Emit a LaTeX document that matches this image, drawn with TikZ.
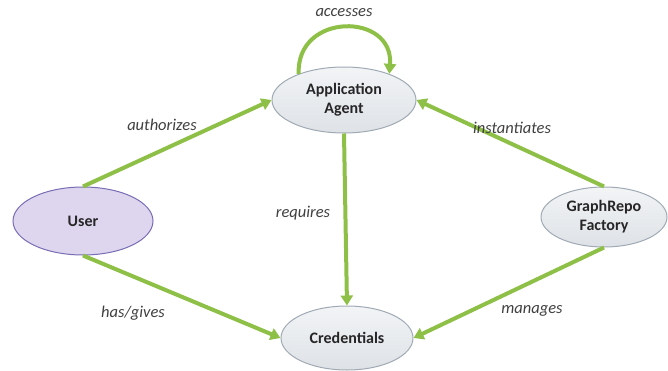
\documentclass[tikz,border=0pt]{standalone}
\usepackage{fontspec}
\setmainfont{Carlito}
\usetikzlibrary{arrows.meta,shapes.geometric}
\definecolor{vert}{RGB}{142,192,72}
\definecolor{bordgris}{RGB}{160,170,180}
\definecolor{fondhaut}{RGB}{242,244,246}
\definecolor{fondbas}{RGB}{222,226,230}
\definecolor{fondlilas}{RGB}{222,214,238}
\definecolor{bordlilas}{RGB}{120,108,180}
\begin{document}
\begin{tikzpicture}[x=1pt,y=-1pt,
    entite/.style={ellipse,draw=bordgris,line width=1pt,top color=fondhaut,bottom color=fondbas,
        inner sep=0pt,align=center,font=\fontsize{16}{19}\selectfont\bfseries,text=black!85},
    lien/.style={draw=vert,line width=4pt,-{Triangle[width=12pt,length=10pt]}},
    etiq/.style={font=\fontsize{16.5}{19}\selectfont\itshape,text=black!75}]
    \useasboundingbox (0,0) rectangle (668,371);
    \node[entite,minimum width=144,minimum height=66] (app) at (344,100) {Application\\Agent};
    \node[entite,minimum width=140,minimum height=68,top color=fondlilas,bottom color=fondlilas,draw=bordlilas] (user) at (83,221) {User};
    \node[entite,minimum width=126,minimum height=60] (factory) at (604,217) {GraphRepo\\Factory};
    \node[entite,minimum width=132,minimum height=64] (cred) at (347,338) {Credentials};
    % liens
    \draw[lien] (app.150) .. controls (296,12) and (394,12) .. (app.30);
    \draw[lien] (user.north) -- (app.west);
    \draw[lien] (factory.north) -- (app.east);
    \draw[lien] (app.south) -- (cred.north);
    \draw[lien] (user.south) -- (cred.west);
    \draw[lien] (factory.south) -- (cred.east);
    % etiquettes
    \node[etiq] (l1) at (344,13) {accesses};
    \node[etiq] (l2) at (162,125) {authorizes};
    \node[etiq] (l3) at (512,128) {instantiates};
    \node[etiq] (l4) at (303,213) {requires};
    \node[etiq] (l5) at (133,313) {has/gives};
    \node[etiq] (l6) at (532,311) {manages};
\end{tikzpicture}
\end{document}
